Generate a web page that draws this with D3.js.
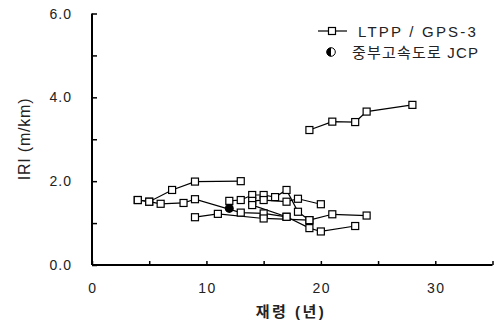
<!DOCTYPE html>
<html><head><meta charset="utf-8">
<script src="https://cdn.jsdelivr.net/npm/d3@7"></script>
<style>body{margin:0;background:#fff}svg{display:block}text{font-family:"Liberation Sans","Noto Sans CJK KR",sans-serif;fill:#222}</style>
</head><body><svg id="c" width="494" height="324"></svg>
<script>
// LTPP / GPS-3 series: [age (years), IRI (m/km)]
const ltpp1 = [[4,1.55],[5,1.51],[7,1.79],[9,1.99],[13,2.00]];
const ltpp2 = [[4,1.55],[5,1.51],[6,1.46],[8,1.48],[9,1.57],[13,1.25],[15,1.23],[17,1.15],[19,0.88],[20,0.80],[23,0.93]];
const ltpp3 = [[9,1.14],[11,1.22],[15,1.11],[19,1.07],[21,1.21],[24,1.18]];
const ltpp4 = [[12,1.53],[13,1.55],[14,1.67],[15,1.67],[16,1.62],[17,1.79],[18,1.27],[19,1.07]];
const ltpp5 = [[14,1.53],[15,1.55],[17,1.51],[18,1.58],[20,1.45]];
const ltpp6 = [[14,1.43],[17,1.15]];
const ltpp7 = [[19,3.22],[21,3.42],[23,3.41],[24,3.66],[28,3.82]];
const ltppSeries = [ltpp1, ltpp2, ltpp3, ltpp4, ltpp5, ltpp6, ltpp7];
const jcp = [[12,1.35]];
const xTicks = [0,10,20,30];
const yTicks = [0,2,4,6];
const legendLabels = ["LTPP / GPS-3", "중부고속도로 JCP"];

const svg = d3.select("#c");
const x = d3.scaleLinear().domain([0,35]).range([92,492.5]);
const y = d3.scaleLinear().domain([0,6]).range([265,13.5]);

// axes
const gy = svg.append("g").attr("transform","translate(92,0)")
  .call(d3.axisRight(y).tickValues(d3.range(0,7,1)).tickSize(5).tickFormat(""));
const gx = svg.append("g").attr("transform","translate(0,265)")
  .call(d3.axisTop(x).tickValues(d3.range(0,36,5)).tickSize(4).tickFormat(""));
[gy,gx].forEach(g=>{
  g.select(".domain").attr("stroke","#000").attr("stroke-width",2);
  g.selectAll(".tick line").attr("stroke","#000").attr("stroke-width",1.5);
});
gy.select(".domain").attr("d","M0,"+y(6)+"V"+y(0));
gx.select(".domain").attr("d","M"+x(0)+",0H"+x(35));

// tick labels
svg.selectAll(".yl").data(yTicks).join("text")
  .attr("x",72).attr("y",d=>y(d)+5).attr("text-anchor","end")
  .attr("font-size",14).attr("letter-spacing",1).text(d=>d.toFixed(1));
svg.selectAll(".xl").data(xTicks).join("text")
  .attr("x",d=>x(d)+1).attr("y",293).attr("text-anchor","middle")
  .attr("font-size",14).attr("letter-spacing",1.5).text(d=>d);

// axis titles
svg.append("text").attr("transform","translate(30,139) rotate(-90)")
  .attr("text-anchor","middle").attr("font-size",16).attr("letter-spacing",0.8).text("IRI (m/km)");
svg.append("text").attr("x",291).attr("y",317).attr("text-anchor","middle")
  .attr("font-size",15).attr("font-weight","bold").attr("letter-spacing",2.5).text("재령 (년)");

// series
const line = d3.line().x(d=>x(d[0])).y(d=>y(d[1]));
const s = 7;
ltppSeries.forEach(ser=>{
  svg.append("path").attr("d",line(ser)).attr("fill","none").attr("stroke","#000").attr("stroke-width",1.2);
});
ltppSeries.forEach(ser=>{
  svg.selectAll(null).data(ser).join("rect")
    .attr("x",d=>x(d[0])-s/2).attr("y",d=>y(d[1])-s/2).attr("width",s).attr("height",s)
    .attr("fill","#fff").attr("stroke","#000").attr("stroke-width",1.2);
});
svg.selectAll(".jcp").data(jcp).join("circle")
  .attr("cx",d=>x(d[0])).attr("cy",d=>y(d[1])).attr("r",4.5).attr("fill","#000");

// legend
const lg = svg.append("g");
lg.append("line").attr("x1",318).attr("x2",347).attr("y1",31).attr("y2",31).attr("stroke","#000").attr("stroke-width",1.2);
lg.append("rect").attr("x",332-s/2).attr("y",31-s/2).attr("width",s).attr("height",s).attr("fill","#fff").attr("stroke","#000").attr("stroke-width",1.2);
lg.append("text").attr("x",358).attr("y",36.5).attr("font-size",15).attr("letter-spacing",2.2).text(legendLabels[0]);
lg.append("circle").attr("cx",331).attr("cy",52).attr("r",4.3).attr("fill","#fff").attr("stroke","#000").attr("stroke-width",1);
lg.append("path").attr("d","M331,47.7A4.3,4.3 0 0 0 331,56.3Z").attr("fill","#000");
lg.append("text").attr("x",352).attr("y",57.5).attr("font-size",15).attr("letter-spacing",1.2).text(legendLabels[1]);
</script></body></html>
